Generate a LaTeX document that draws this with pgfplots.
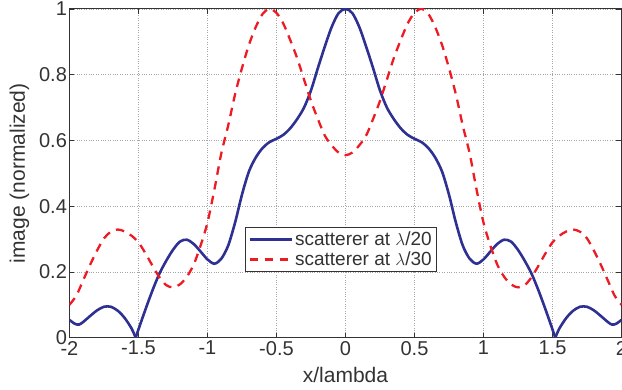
\documentclass[border=0pt]{standalone}
\usepackage{fontspec}
\setmainfont{Liberation Sans}
\usepackage{pgfplots}
\usepackage{pgfplotstable}
\pgfplotsset{compat=1.18}
\definecolor{myblue}{HTML}{2E3192}
\definecolor{myred}{HTML}{ED1C24}
\definecolor{axgray}{HTML}{333333}

\pgfplotstableread{
x y
-1.52 0.0
-1.5 0.025
-1.45 0.085
-1.4 0.142
-1.35 0.193
-1.3 0.233
-1.25 0.267
-1.2 0.292
-1.15 0.298
-1.1 0.285
-1.05 0.262
-1.0 0.238
-0.95 0.225
-0.9 0.24
-0.85 0.28
-0.8 0.35
-0.75 0.435
-0.7 0.505
-0.65 0.548
-0.6 0.577
-0.55 0.595
-0.5 0.605
-0.45 0.617
-0.4 0.637
-0.35 0.665
-0.3 0.70
-0.25 0.752
-0.2 0.82
-0.15 0.885
-0.1 0.945
-0.05 0.987
0 1.0
0.05 0.987
0.1 0.945
0.15 0.885
0.2 0.82
0.25 0.752
0.3 0.70
0.35 0.665
0.4 0.637
0.45 0.617
0.5 0.605
0.55 0.595
0.6 0.577
0.65 0.548
0.7 0.505
0.75 0.435
0.8 0.35
0.85 0.28
0.9 0.24
0.95 0.225
1.0 0.238
1.05 0.262
1.1 0.285
1.15 0.298
1.2 0.292
1.25 0.267
1.3 0.233
1.35 0.193
1.4 0.142
1.45 0.085
1.5 0.025
1.52 0.0
}\bluemid

\pgfplotstableread{
x y
-2.0 0.054
-1.96 0.042
-1.93 0.04
-1.9 0.048
-1.85 0.066
-1.8 0.083
-1.75 0.094
-1.7 0.094
-1.65 0.082
-1.6 0.06
-1.55 0.028
-1.52 0.0
}\blueleft

\pgfplotstableread{
x y
1.52 0.0
1.55 0.028
1.6 0.06
1.65 0.082
1.7 0.094
1.75 0.094
1.8 0.083
1.85 0.066
1.9 0.048
1.93 0.04
1.96 0.042
2.0 0.054
}\blueright

\pgfplotstableread{
x y
-2.0 0.10
-1.95 0.128
-1.9 0.175
-1.85 0.222
-1.8 0.265
-1.75 0.302
-1.7 0.322
-1.65 0.329
-1.6 0.323
-1.55 0.31
-1.5 0.29
-1.45 0.257
-1.4 0.22
-1.35 0.185
-1.3 0.16
-1.25 0.153
-1.2 0.162
-1.15 0.185
-1.1 0.222
-1.05 0.28
-1.0 0.35
-0.95 0.45
-0.9 0.56
-0.85 0.645
-0.8 0.74
-0.75 0.82
-0.7 0.89
-0.65 0.945
-0.6 0.985
-0.55 1.0
-0.5 0.988
-0.45 0.955
-0.4 0.905
-0.35 0.85
-0.3 0.785
-0.25 0.72
-0.2 0.665
-0.15 0.615
-0.1 0.585
-0.05 0.563
0 0.555
0.05 0.563
0.1 0.585
0.15 0.615
0.2 0.665
0.25 0.72
0.3 0.785
0.35 0.85
0.4 0.905
0.45 0.955
0.5 0.988
0.55 1.0
0.6 0.985
0.65 0.945
0.7 0.89
0.75 0.82
0.8 0.74
0.85 0.645
0.9 0.56
0.95 0.45
1.0 0.35
1.05 0.28
1.1 0.222
1.15 0.185
1.2 0.162
1.25 0.153
1.3 0.16
1.35 0.185
1.4 0.22
1.45 0.257
1.5 0.29
1.55 0.31
1.6 0.323
1.65 0.329
1.7 0.322
1.75 0.302
1.8 0.265
1.85 0.222
1.9 0.175
1.95 0.128
2.0 0.10
}\reddata

\begin{document}
\begin{tikzpicture}
\begin{axis}[
  scale only axis, width=551.6pt, height=328.5pt,
  xmin=-2, xmax=2, ymin=0, ymax=1,
  xtick={-2,-1.5,-1,-0.5,0,0.5,1,1.5,2},
  ytick={0,0.2,0.4,0.6,0.8,1},
  /pgf/number format/assume math mode=true,
  tick label style={font=\fontsize{20}{23}\selectfont, text=axgray},
  yticklabel style={xshift=1pt},
  label style={font=\fontsize{21}{24}\selectfont, text=axgray},
  xlabel={x/lambda},
  ylabel={image (normalized)},
  xlabel style={at={(axis description cs:0.5,-0.1358)}, anchor=base},
  ylabel style={at={(axis description cs:-0.0906,0.5)}, anchor=center},
  tick align=inside,
  major tick length=5pt,
  tick style={axgray, line width=0.7pt},
  axis line style={axgray, line width=0.8pt},
  grid=major,
  grid style={dotted, gray!70, line width=0.6pt},
  legend cell align=left,
  legend style={at={(0.318,0.336)}, anchor=north west, draw=axgray, line width=0.8pt,
    font=\fontsize{19}{22}\selectfont, text=axgray, inner xsep=3pt, inner ysep=2pt,
    row sep=1pt},
  legend image code/.code={\draw[#1] (0pt,0pt) -- (42pt,0pt);},
  clip=true,
]
\addplot[myblue, line width=2.6pt, smooth] table[x=x,y=y] {\bluemid};
\addlegendentry{scatterer at $\lambda$/20}
\addplot[myred, line width=2.3pt, smooth, dash pattern=on 8.5pt off 6.5pt] table[x=x,y=y] {\reddata};
\addlegendentry{scatterer at $\lambda$/30}
\addplot[myblue, line width=2.6pt, smooth, forget plot] table[x=x,y=y] {\blueleft};
\addplot[myblue, line width=2.6pt, smooth, forget plot] table[x=x,y=y] {\blueright};
\coordinate (bbA) at (rel axis cs:0,0);
\coordinate (bbB) at (rel axis cs:1,1);
\end{axis}
\pgfresetboundingbox
\useasboundingbox ([shift={(-69.4pt,-52pt)}]bbA) rectangle ([shift={(0.5pt,8.9pt)}]bbB);
\end{tikzpicture}
\end{document}
